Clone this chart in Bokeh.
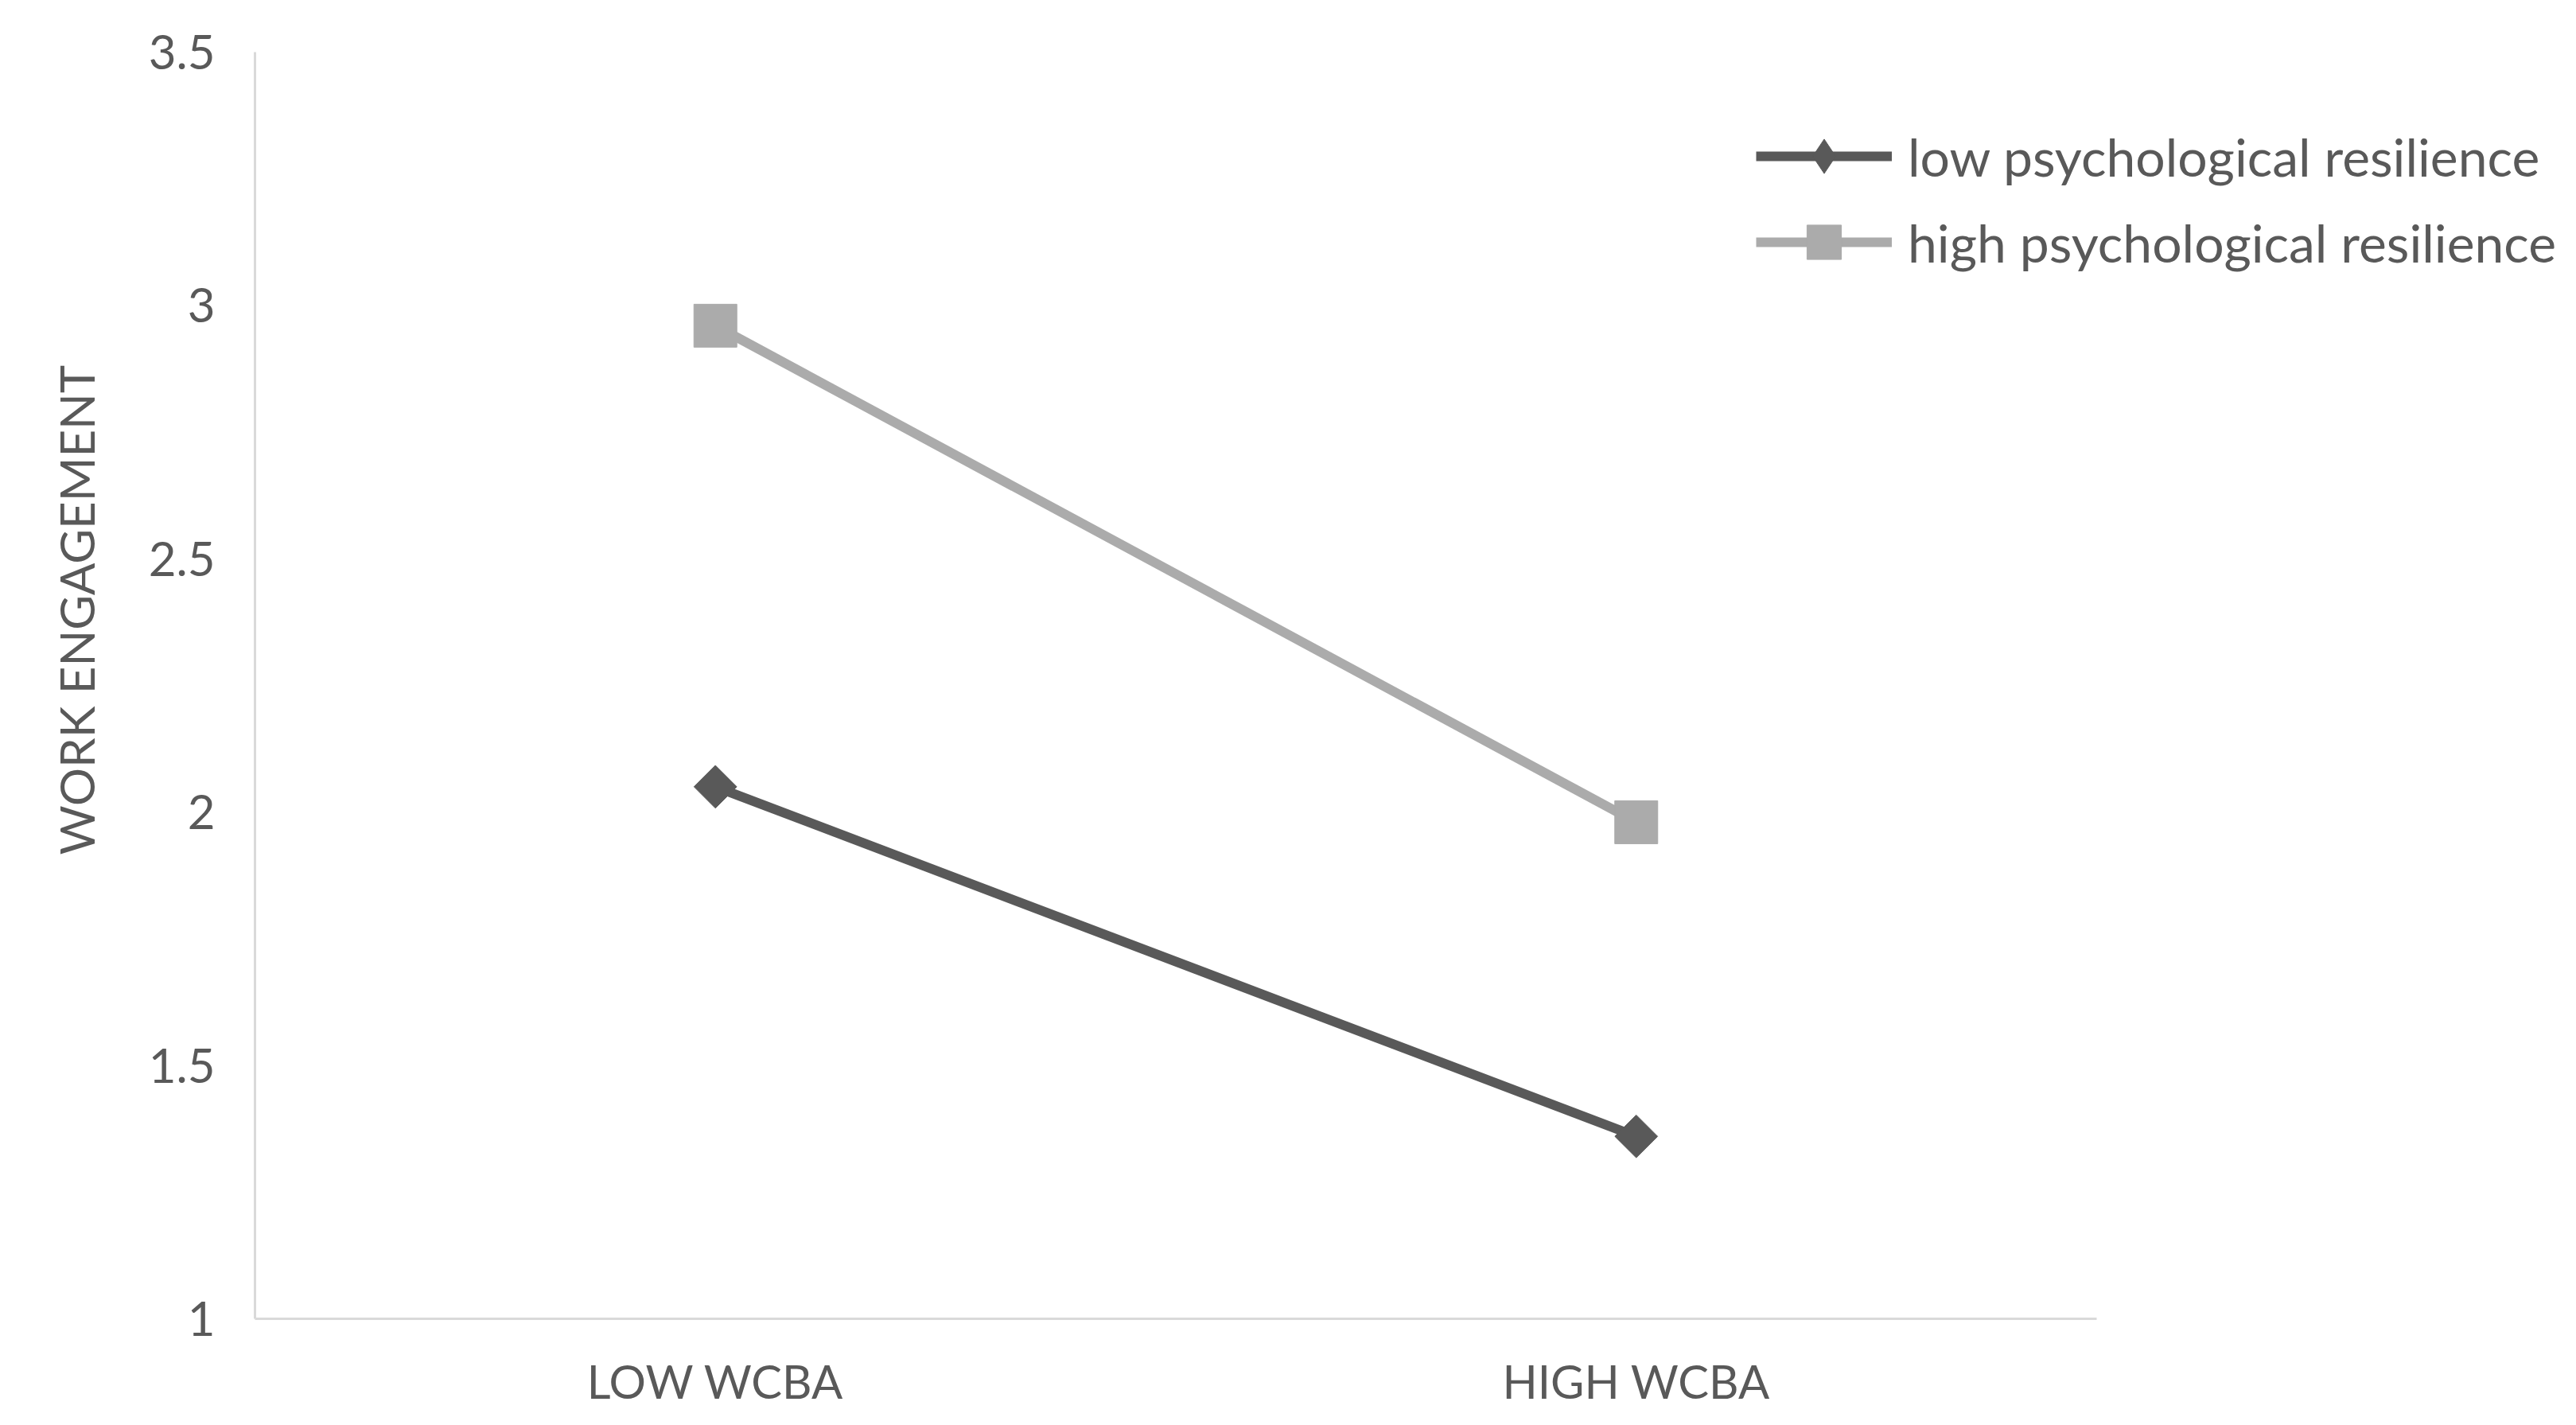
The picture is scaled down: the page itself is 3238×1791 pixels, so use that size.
import math
from bokeh.plotting import figure
from bokeh.models import Range1d, FixedTicker, Legend, LegendItem, Title
from bokeh.embed import file_html
from bokeh.resources import INLINE

categories = ["LOW WCBA", "HIGH WCBA"]
low_resilience = [2.05, 1.36]
high_resilience = [2.96, 1.98]
y_ticks = [1, 1.5, 2, 2.5, 3, 3.5]
y_tick_labels = ["1", "1.5", "2", "2.5", "3", "3.5"]
series_names = ["low psychological resilience", "high psychological resilience"]
y_title = "WORK ENGAGEMENT"

TEXT = "#595959"
FONT = "Lato"
DARK = "#595959"
LIGHT = "#ababab"

# category centres on a numeric axis (0.5, 1.5, ...)
xpos = [i + 0.5 for i in range(len(categories))]
n = len(categories)

p = figure(width=3222, height=1775, x_range=Range1d(0, n + 0.4985),
           y_range=Range1d(1, 3.5), output_backend="svg", toolbar_location=None,
           min_border_left=320, min_border_right=10, min_border_top=65, min_border_bottom=118)
p.outline_line_color = None
p.xgrid.grid_line_color = None
p.ygrid.grid_line_color = None
p.background_fill_color = "white"
p.border_fill_color = "white"

r1 = p.line(xpos, low_resilience, line_color=DARK, line_width=12)
# narrow diamond hidden inside the rotated square: gives the legend its diamond swatch
d1 = p.scatter(xpos, low_resilience, marker="diamond", size=34, fill_color=DARK, line_color=DARK)
p.scatter(xpos, low_resilience, marker="square", angle=math.pi / 4, size=38,
          fill_color=DARK, line_color=DARK)
r2 = p.line(xpos, high_resilience, line_color=LIGHT, line_width=12)
m2 = p.scatter(xpos, high_resilience, marker="square", size=54,
               fill_color=LIGHT, line_color=LIGHT)

for ax in (p.xaxis[0], p.yaxis[0]):
    ax.axis_line_color = "#d9d9d9"
    ax.axis_line_width = 3
    ax.major_tick_line_color = None
    ax.minor_tick_line_color = None
    ax.major_tick_out = 0
    ax.major_tick_in = 0
    ax.major_label_text_color = TEXT
    ax.major_label_text_font = FONT

p.xaxis.bounds = (0, n)
p.xaxis.ticker = FixedTicker(ticks=xpos)
p.xaxis.major_label_overrides = {x: c for x, c in zip(xpos, categories)}
p.xaxis.major_label_text_font_size = "58px"
p.xaxis.major_label_standoff = 43

p.yaxis.ticker = FixedTicker(ticks=y_ticks)
p.yaxis.major_label_overrides = {t: l for t, l in zip(y_ticks, y_tick_labels)}
p.yaxis.major_label_text_font_size = "60px"
p.yaxis.major_label_standoff = 50

title = Title(text=y_title, align="left", vertical_align="top", offset=583, standoff=100,
              text_font=FONT, text_font_size="60px", text_font_style="normal",
              text_color=TEXT)
p.add_layout(title, "left")

legend = Legend(items=[LegendItem(label=series_names[0], renderers=[r1, d1]),
                       LegendItem(label=series_names[1], renderers=[r2, m2])],
                location=(1887, 1299), padding=0, margin=0, spacing=0,
                glyph_width=171, glyph_height=108, label_height=108, label_standoff=20,
                label_text_font=FONT, label_text_font_size="66px", label_text_color=TEXT,
                border_line_color=None, background_fill_alpha=0)
p.add_layout(legend, "center")

open("out.html", "w").write(file_html(p, INLINE))
